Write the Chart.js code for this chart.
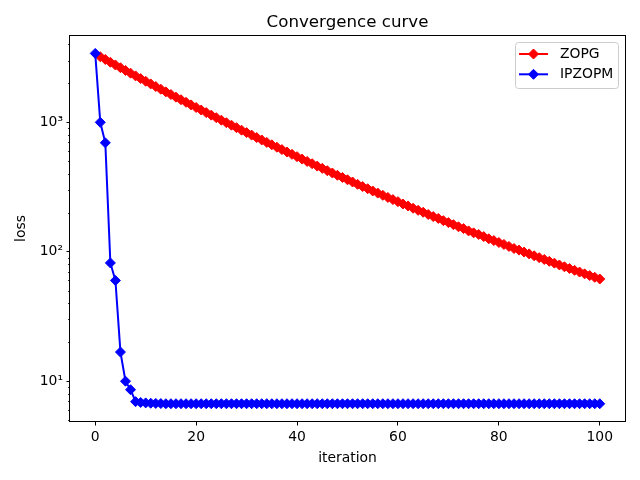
<!DOCTYPE html>
<html>
<head>
<meta charset="utf-8">
<script src="https://cdn.jsdelivr.net/npm/chart.js@4.4.1/dist/chart.umd.min.js"></script>
<style>
  html, body { margin: 0; padding: 0; background: #fff; }
  canvas { display: block; }
</style>
</head>
<body>
<canvas id="chart" width="640" height="480"></canvas>
<script>
const seriesNames = ['ZOPG', 'IPZOPM'];
const seriesColors = ['#ff0000', '#0000ff'];
const zopgFirstIter = 1;

// loss per iteration, ZOPG from iteration 1 to 100
const zopgLoss = [
    3214, 3060, 2913, 2775, 2643, 2518, 2399, 2286, 2179, 2078,
    1981, 1890, 1803, 1720, 1641, 1566, 1495, 1428, 1364, 1303,
    1245, 1189, 1137, 1086, 1039, 994, 951, 910, 870, 833,
    797, 763, 731, 700, 671, 643, 616, 590, 566, 543,
    520, 499, 479, 459, 441, 423, 406, 390, 375, 360,
    346, 332, 319, 307, 295, 284, 273, 263, 253, 244,
    234, 226, 217, 209, 202, 194, 187, 181, 174, 168,
    162, 156, 151, 145, 140, 136, 131, 126, 122, 118,
    114, 110, 106, 103, 99.5, 96.3, 93.1, 90.1, 87.2, 84.4,
    81.7, 79.1, 76.6, 74.2, 71.9, 69.7, 67.5, 65.5, 63.5, 61.6
];

// IPZOPM from iteration 0 to 100
const ipzopmLoss = [
    3410, 1000, 695, 82, 60, 16.8, 10, 8.6, 6.95, 6.85,
    6.8, 6.76, 6.74, 6.72, 6.7, 6.7, 6.7, 6.7, 6.7, 6.7,
    6.7, 6.7, 6.7, 6.7, 6.7, 6.7, 6.7, 6.7, 6.7, 6.7,
    6.7, 6.7, 6.7, 6.7, 6.7, 6.7, 6.7, 6.7, 6.7, 6.7,
    6.7, 6.7, 6.7, 6.7, 6.7, 6.7, 6.7, 6.7, 6.7, 6.7,
    6.7, 6.7, 6.7, 6.7, 6.7, 6.7, 6.7, 6.7, 6.7, 6.7,
    6.7, 6.7, 6.7, 6.7, 6.7, 6.7, 6.7, 6.7, 6.7, 6.7,
    6.7, 6.7, 6.7, 6.7, 6.7, 6.7, 6.7, 6.7, 6.7, 6.7,
    6.7, 6.7, 6.7, 6.7, 6.7, 6.7, 6.7, 6.7, 6.7, 6.7,
    6.7, 6.7, 6.7, 6.7, 6.7, 6.7, 6.7, 6.7, 6.7, 6.7,
    6.7
];

const xTicks = [0, 20, 40, 60, 80, 100];
const yTicks = [10, 100, 1000];
const yTickLabels = ['10¹', '10²', '10³'];
const yMinorTicks = [5, 6, 7, 8, 9, 20, 30, 40, 50, 60, 70, 80, 90,
    200, 300, 400, 500, 600, 700, 800, 900, 2000, 3000, 4000];

const FONT = 'DejaVu Sans';
Chart.defaults.font.family = FONT;
Chart.defaults.color = '#000';

// frame on all four sides + short minor ticks on the log axis
const framePlugin = {
    id: 'frame',
    afterDatasetsDraw(chart) {
        const { ctx, chartArea: a } = chart;
        const y = chart.scales.y;
        ctx.save();
        ctx.strokeStyle = '#000';
        ctx.lineWidth = 0.8;
        yMinorTicks.forEach(v => {
            const py = Math.round(y.getPixelForValue(v)) + 0.5;
            ctx.beginPath();
            ctx.moveTo(a.left, py);
            ctx.lineTo(a.left - 2, py);
            ctx.stroke();
        });
        ctx.lineWidth = 1;
        ctx.strokeRect(Math.round(a.left) - 0.5, Math.round(a.top) + 0.5,
            Math.round(a.right - a.left) + 1, Math.round(a.bottom - a.top) - 1);
        ctx.restore();
    }
};

function drawDiamond(ctx, x, y, r, color) {
    ctx.beginPath();
    ctx.moveTo(x - r, y);
    ctx.lineTo(x, y - r);
    ctx.lineTo(x + r, y);
    ctx.lineTo(x, y + r);
    ctx.closePath();
    ctx.fillStyle = color;
    ctx.fill();
    ctx.strokeStyle = color;
    ctx.lineWidth = 1;
    ctx.stroke();
}

// matplotlib-like legend box in the upper right corner
const legendPlugin = {
    id: 'mplLegend',
    afterDraw(chart) {
        const { ctx, chartArea: a } = chart;
        const boxW = 103, boxH = 46;
        const bx = a.right - 7 - boxW, by = a.top + 7;
        ctx.save();
        ctx.beginPath();
        ctx.roundRect(bx + 0.5, by + 0.5, boxW, boxH, 3);
        ctx.fillStyle = 'rgba(255,255,255,0.8)';
        ctx.fill();
        ctx.strokeStyle = '#cccccc';
        ctx.lineWidth = 1;
        ctx.stroke();
        ctx.font = '13.9px "' + FONT + '"';
        ctx.textBaseline = 'middle';
        seriesNames.forEach((name, i) => {
            const ry = by + 12 + i * 20.3;
            const hx = bx + 4;
            ctx.strokeStyle = seriesColors[i];
            ctx.lineWidth = 2;
            ctx.beginPath();
            ctx.moveTo(hx, ry);
            ctx.lineTo(hx + 29, ry);
            ctx.stroke();
            drawDiamond(ctx, hx + 14.5, ry, 5, seriesColors[i]);
            ctx.fillStyle = '#000';
            ctx.fillText(name, hx + 41, ry);
        });
        ctx.restore();
    }
};

const datasets = [
    {
        label: seriesNames[0],
        data: zopgLoss.map((v, i) => ({ x: i + zopgFirstIter, y: v })),
        order: 1
    },
    {
        label: seriesNames[1],
        data: ipzopmLoss.map((v, i) => ({ x: i, y: v })),
        order: 0
    }
].map((d, i) => Object.assign(d, {
    borderColor: seriesColors[i],
    backgroundColor: seriesColors[i],
    pointBackgroundColor: seriesColors[i],
    pointBorderColor: seriesColors[i],
    borderWidth: 2,
    pointStyle: 'rectRot',
    pointRadius: 5,
    pointBorderWidth: 1,
    tension: 0
}));

new Chart(document.getElementById('chart'), {
    type: 'line',
    data: { datasets },
    options: {
        responsive: false,
        animation: false,
        layout: { padding: { left: 0, right: 15, top: 0, bottom: 0 } },
        plugins: {
            legend: { display: false },
            tooltip: { enabled: false },
            title: {
                display: true,
                text: 'Convergence curve',
                fullSize: false,
                color: '#000',
                font: { family: FONT, size: 16.67, weight: 'normal', lineHeight: 1.2 },
                padding: { top: 13, bottom: 2 }
            }
        },
        scales: {
            x: {
                type: 'linear',
                min: -5,
                max: 105,
                afterBuildTicks: s => { s.ticks = xTicks.map(v => ({ value: v })); },
                afterFit: s => { s.height = 58; },
                border: { display: false },
                grid: { drawOnChartArea: false, drawTicks: true, tickLength: 3.5, tickWidth: 1, tickColor: '#000' },
                ticks: { autoSkip: false, maxRotation: 0, padding: 3.5, color: '#000', font: { size: 13.9 } },
                title: {
                    display: true,
                    text: 'iteration',
                    color: '#000',
                    font: { size: 13.9, lineHeight: 1.2 },
                    padding: { top: 0, bottom: 13.7 }
                }
            },
            y: {
                type: 'logarithmic',
                min: 4.84,
                max: 4730,
                afterBuildTicks: s => { s.ticks = yTicks.map(v => ({ value: v })); },
                afterFit: s => { s.width = 70; },
                border: { display: false },
                grid: { drawOnChartArea: false, drawTicks: true, tickLength: 3.5, tickWidth: 1, tickColor: '#000' },
                ticks: {
                    autoSkip: false,
                    padding: 3.5,
                    color: '#000',
                    font: { size: 13.9 },
                    callback: v => {
                        const k = yTicks.indexOf(v);
                        return k >= 0 ? yTickLabels[k] : '';
                    }
                },
                title: {
                    display: true,
                    text: 'loss',
                    color: '#000',
                    font: { size: 13.9, lineHeight: 1.2 },
                    padding: { top: 13, bottom: 0 }
                }
            }
        }
    },
    plugins: [framePlugin, legendPlugin]
});
</script>
</body>
</html>
